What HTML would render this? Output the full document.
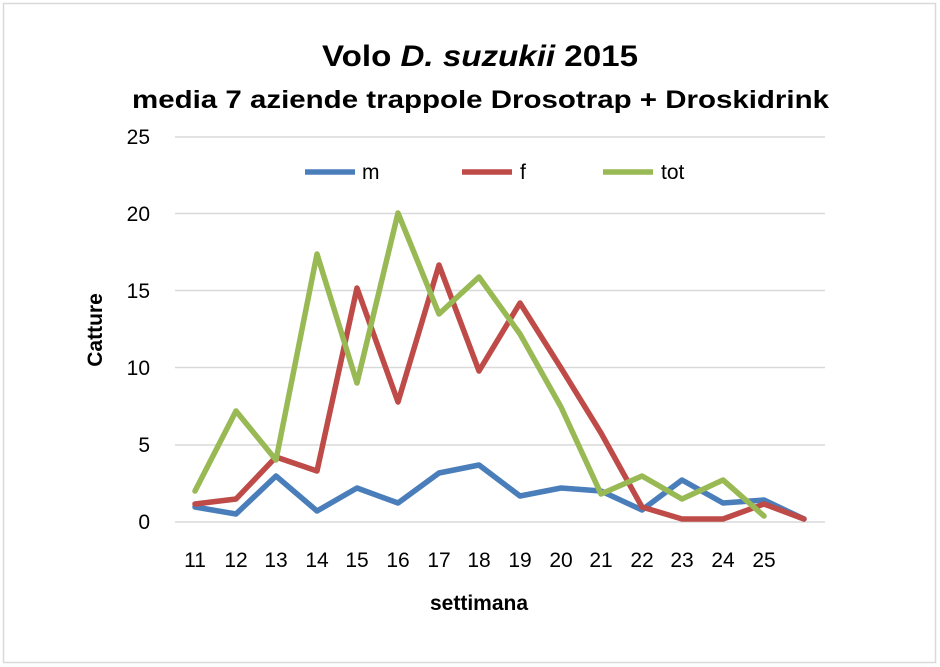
<!DOCTYPE html>
<html><head><meta charset="utf-8"><style>
body{margin:0;background:#fff;}
svg{display:block;font-family:"Liberation Sans",Calibri,sans-serif;}
</style></head><body>
<svg width="940" height="667" viewBox="0 0 940 667" xmlns="http://www.w3.org/2000/svg">
<rect x="0" y="0" width="940" height="667" fill="#fff"/>
<rect x="3.5" y="3.5" width="932" height="659" fill="#fff" stroke="#d9d9d9" stroke-width="1.5"/>
<text x="322" y="66" font-size="30" font-weight="bold" fill="#000" textLength="316" lengthAdjust="spacingAndGlyphs">Volo <tspan font-style="italic">D. suzukii</tspan> 2015</text>
<text x="132" y="108" font-size="25" font-weight="bold" fill="#000" textLength="697" lengthAdjust="spacingAndGlyphs">media 7 aziende  trappole Drosotrap + Droskidrink</text>
<g stroke="#d9d9d9" stroke-width="1.5">
<line x1="175" x2="825" y1="137" y2="137"/>
<line x1="175" x2="825" y1="213.5" y2="213.5"/>
<line x1="175" x2="825" y1="290.5" y2="290.5"/>
<line x1="175" x2="825" y1="367.5" y2="367.5"/>
<line x1="175" x2="825" y1="445" y2="445"/>
<line x1="175" x2="825" y1="522" y2="522"/>
</g>
<g font-size="21" fill="#000" text-anchor="end">
<text x="150" y="144">25</text><text x="150" y="221">20</text><text x="150" y="298">15</text>
<text x="150" y="375">10</text><text x="150" y="452">5</text><text x="150" y="529">0</text>
</g>
<g font-size="21" fill="#000" text-anchor="middle">
<text x="195" y="567">11</text><text x="236" y="567">12</text><text x="276" y="567">13</text>
<text x="317" y="567">14</text><text x="357" y="567">15</text><text x="398" y="567">16</text>
<text x="439" y="567">17</text><text x="479" y="567">18</text><text x="520" y="567">19</text>
<text x="561" y="567">20</text><text x="601" y="567">21</text><text x="642" y="567">22</text>
<text x="682" y="567">23</text><text x="723" y="567">24</text><text x="764" y="567">25</text>
</g>
<text x="479" y="610" text-anchor="middle" font-size="21" font-weight="bold">settimana</text>
<text transform="translate(102,330) rotate(-90)" text-anchor="middle" font-size="21" font-weight="bold">Catture</text>
<g stroke-width="5.5" fill="none" stroke-linejoin="round" stroke-linecap="round">
<polyline stroke="#4a7ebb" points="195,507 236,514 276,476 317,511 357,488 398,503 439,473 479,465 520,496 561,488 601,491 642,510 682,480 723,503 764,500 804,519"/>
<polyline stroke="#be4b48" points="195,504 236,499 276,457 317,471 357,288 398,402 439,265 479,371 520,303 561,368 601,433 642,507 682,519 723,519 764,504 804,519"/>
<polyline stroke="#98b954" points="195,491 236,411 276,460 317,254 357,383 398,213 439,314 479,277 520,334 561,407 601,494 642,476 682,499 723,480 764,516"/>
</g>
<g font-size="21">
<line x1="305" x2="355" y1="172" y2="172" stroke="#4a7ebb" stroke-width="5.5"/><text x="362" y="179">m</text>
<line x1="462" x2="512" y1="172" y2="172" stroke="#be4b48" stroke-width="5.5"/><text x="520" y="179">f</text>
<line x1="603" x2="653" y1="172" y2="172" stroke="#98b954" stroke-width="5.5"/><text x="661" y="179">tot</text>
</g>
</svg>
</body></html>
